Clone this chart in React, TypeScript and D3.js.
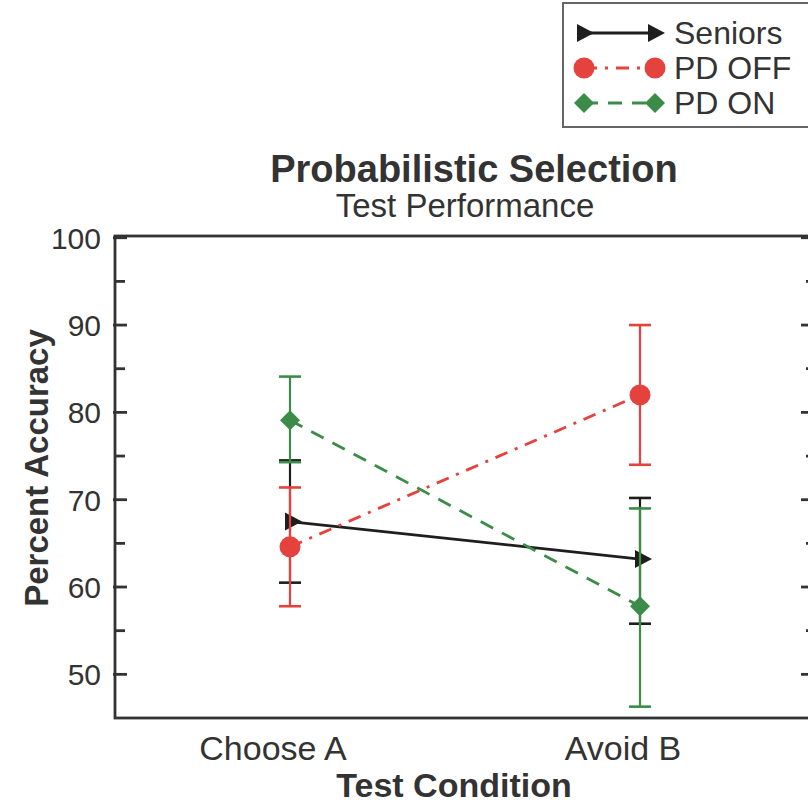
import React, { useRef, useEffect } from "react";
import * as d3 from "d3";

const conditions = ["Choose A", "Avoid B"];
const seriesNames = ["Seniors", "PD OFF", "PD ON"];
const seniorsMean = [67.5, 63.2];
const seniorsLow = [60.5, 55.8];
const seniorsHigh = [74.5, 70.2];
const pdOffMean = [64.6, 82.0];
const pdOffLow = [57.8, 74.0];
const pdOffHigh = [71.4, 90.0];
const pdOnMean = [79.1, 57.8];
const pdOnLow = [74.3, 46.3];
const pdOnHigh = [84.1, 69.0];
const yTicks = [50, 60, 70, 80, 90, 100];
const yMinorTicks = [55, 65, 75, 85, 95];

const App = () => {
  const chartRef = useRef<SVGSVGElement | null>(null);

  useEffect(() => {
    const width = 808;
    const height = 803;
    const left = 115;
    const right = 815;
    const top = 236;
    const bottom = 718;
    const font = "'Liberation Sans', Arial, Helvetica, sans-serif";
    const ink = "#333";

    const svg = d3.select(chartRef.current);
    svg.selectAll("*").remove();
    svg.attr("width", width).attr("height", height);

    const x = d3.scaleLinear().domain([0.5, 2.5]).range([left, right]);
    const y = d3.scaleLinear().domain([45, 100.2]).range([bottom, top]);

    const series = [
      { name: seriesNames[0], mean: seniorsMean, lo: seniorsLow, hi: seniorsHigh, color: "#1e1e1e", dash: null, marker: "tri" },
      { name: seriesNames[1], mean: pdOffMean, lo: pdOffLow, hi: pdOffHigh, color: "#e5413d", dash: "13 8 3 8", marker: "circle" },
      { name: seriesNames[2], mean: pdOnMean, lo: pdOnLow, hi: pdOnHigh, color: "#3b8c48", dash: "14 10", marker: "diamond" },
    ];

    const drawMarker = (g: any, kind: string, cx: number, cy: number, color: string) => {
      if (kind === "circle") {
        g.append("circle").attr("cx", cx).attr("cy", cy).attr("r", 10.5).attr("fill", color);
      } else if (kind === "diamond") {
        const s = 10;
        g.append("path")
          .attr("d", `M${cx},${cy - s}L${cx + s},${cy}L${cx},${cy + s}L${cx - s},${cy}Z`)
          .attr("fill", color);
      } else {
        g.append("path")
          .attr("d", `M${cx - 5},${cy - 9}L${cx + 12},${cy}L${cx - 5},${cy + 9}Z`)
          .attr("fill", color);
      }
    };

    // frame
    const frame = svg.append("g").attr("stroke", ink).attr("stroke-width", 2.8).attr("fill", "none");
    frame.append("rect").attr("x", left).attr("y", top).attr("width", right - left).attr("height", bottom - top);

    // ticks (inward, both sides)
    yTicks.forEach((t) => {
      frame.append("line").attr("x1", left - 2).attr("x2", left + 12).attr("y1", y(t)).attr("y2", y(t));
      frame.append("line").attr("x1", right).attr("x2", right - 14).attr("y1", y(t)).attr("y2", y(t));
    });
    yMinorTicks.forEach((t) => {
      frame.append("line").attr("x1", left).attr("x2", left + 10).attr("y1", y(t)).attr("y2", y(t));
      frame.append("line").attr("x1", right).attr("x2", right - 9).attr("y1", y(t)).attr("y2", y(t));
    });

    // y tick labels
    svg.append("g")
      .selectAll("text")
      .data(yTicks)
      .enter()
      .append("text")
      .attr("x", 101)
      .attr("y", (d) => y(d) + 11)
      .attr("text-anchor", "end")
      .attr("font-family", font)
      .attr("font-size", 30)
      .attr("fill", ink)
      .text((d) => d);

    // x tick labels
    svg.append("g")
      .selectAll("text")
      .data(conditions)
      .enter()
      .append("text")
      .attr("x", (d, i) => x(i + 1) - 17)
      .attr("y", 760)
      .attr("text-anchor", "middle")
      .attr("font-family", font)
      .attr("font-size", 34)
      .attr("fill", ink)
      .text((d) => d);

    // axis titles
    svg.append("text")
      .attr("x", 454)
      .attr("y", 797)
      .attr("text-anchor", "middle")
      .attr("font-family", font)
      .attr("font-weight", "bold")
      .attr("font-size", 34)
      .attr("fill", ink)
      .text("Test Condition");

    svg.append("text")
      .attr("transform", "translate(48,468) rotate(-90)")
      .attr("text-anchor", "middle")
      .attr("font-family", font)
      .attr("font-weight", "bold")
      .attr("font-size", 33)
      .attr("fill", ink)
      .text("Percent Accuracy");

    // titles
    svg.append("text")
      .attr("x", 474)
      .attr("y", 182)
      .attr("text-anchor", "middle")
      .attr("font-family", font)
      .attr("font-weight", "bold")
      .attr("font-size", 38)
      .attr("fill", ink)
      .text("Probabilistic Selection");

    svg.append("text")
      .attr("x", 465)
      .attr("y", 217)
      .attr("text-anchor", "middle")
      .attr("font-family", font)
      .attr("font-size", 33)
      .attr("fill", ink)
      .text("Test Performance");

    // series
    const line = d3.line<number>().x((d, i) => x(i + 1)).y((d) => y(d));
    series.forEach((s) => {
      const g = svg.append("g");
      // error bars
      s.mean.forEach((m, i) => {
        const cx = x(i + 1);
        g.append("line").attr("x1", cx).attr("x2", cx).attr("y1", y(s.lo[i])).attr("y2", y(s.hi[i]))
          .attr("stroke", s.color).attr("stroke-width", 2.2);
        [s.lo[i], s.hi[i]].forEach((v) => {
          g.append("line").attr("x1", cx - 11).attr("x2", cx + 11).attr("y1", y(v)).attr("y2", y(v))
            .attr("stroke", s.color).attr("stroke-width", 2.6);
        });
      });
      g.append("path")
        .attr("d", line(s.mean))
        .attr("fill", "none")
        .attr("stroke", s.color)
        .attr("stroke-width", 2.8)
        .attr("stroke-dasharray", s.dash);
      s.mean.forEach((m, i) => drawMarker(g, s.marker, x(i + 1), y(m), s.color));
    });

    // legend
    const lg = svg.append("g");
    lg.append("rect").attr("x", 563).attr("y", 3).attr("width", 260).attr("height", 124)
      .attr("fill", "white").attr("stroke", "#666").attr("stroke-width", 2);
    series.forEach((s, i) => {
      const ly = 33 + i * 35;
      lg.append("line").attr("x1", 584).attr("x2", 655).attr("y1", ly).attr("y2", ly)
        .attr("stroke", s.color).attr("stroke-width", 2.8).attr("stroke-dasharray", s.dash);
      drawMarker(lg, s.marker, s.marker === "tri" ? 582 : 584, ly, s.color);
      drawMarker(lg, s.marker, s.marker === "tri" ? 653 : 655, ly, s.color);
      lg.append("text")
        .attr("x", 674)
        .attr("y", ly + 11)
        .attr("font-family", font)
        .attr("font-size", 32)
        .attr("fill", ink)
        .text(s.name);
    });
  }, []);

  return (
    <svg ref={chartRef} style={{ position: "absolute", left: 0, top: 0, background: "white" }}></svg>
  );
};

export default App;
